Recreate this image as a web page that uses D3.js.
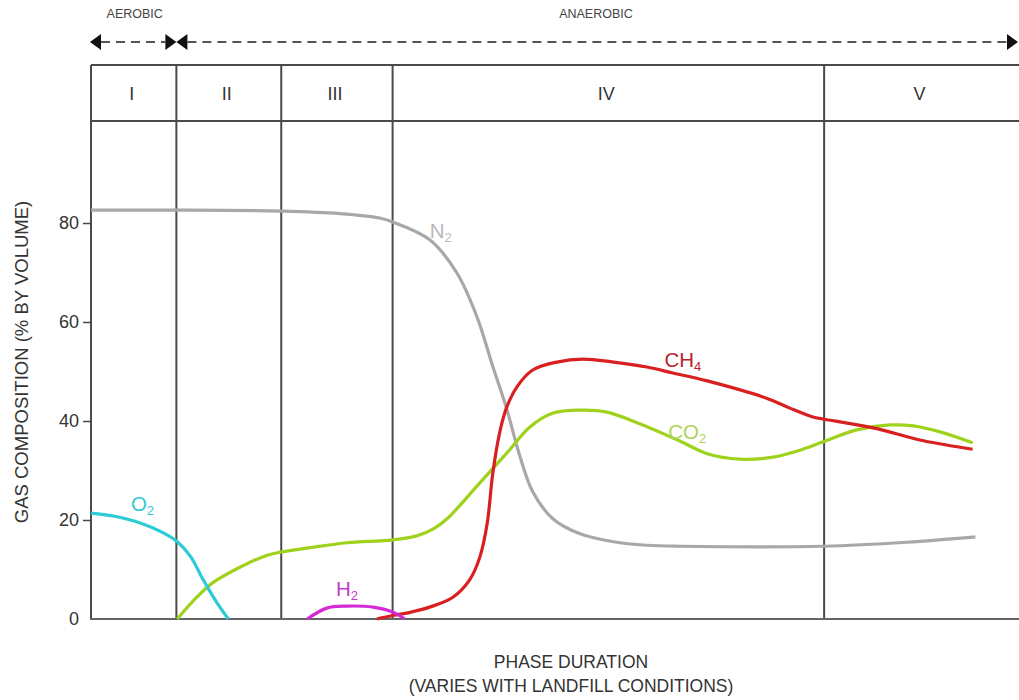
<!DOCTYPE html>
<html>
<head>
<meta charset="utf-8">
<script src="https://cdn.jsdelivr.net/npm/d3@7"></script>
<style>
  body { margin: 0; background: #fff; }
  svg { display: block; font-family: "Liberation Sans", Arial, sans-serif; }
</style>
</head>
<body>
<div id="vis"></div>
<script>
// Landfill gas composition by phase

// Data (x = relative phase duration 0-100, y = % by volume)
const PHASE_LABELS = ["I", "II", "III", "IV", "V"];
const PHASE_EDGES = [0, 9.2, 20.5, 32.5, 79, 100];
const Y_TICKS = [0, 20, 40, 60, 80];

const N2_X = [0, 9.2, 20.5, 26.8, 31.1, 32.5, 36.5, 39.4, 41.6, 43.3, 44.8, 46.2, 47.6, 49.8, 52.7, 56.3, 59.9, 63.5, 78.9, 87.9, 95.3];
const N2_Y = [82.6, 82.6, 82.4, 81.9, 81.0, 80.2, 76.6, 70.0, 61.0, 51.0, 42.4, 33.0, 25.7, 20.2, 17.2, 15.6, 14.9, 14.7, 14.7, 15.5, 16.6];

const CH4_X = [30.8, 32.5, 34.5, 36.5, 39.0, 40.8, 41.9, 42.7, 43.3, 44.1, 44.8, 45.9, 47.6, 50.2, 53.0, 56.3, 59.9, 62.7, 66.4, 72.8, 75.3, 77.8, 78.9, 84.3, 89.7, 95.0];
const CH4_Y = [0, 0.7, 1.4, 2.4, 4.4, 7.9, 12.5, 19.4, 29.5, 38.2, 42.8, 46.9, 50.3, 51.9, 52.5, 51.9, 50.9, 49.7, 48.1, 44.6, 42.6, 40.8, 40.4, 38.6, 36.0, 34.3];

const CO2_X = [9.3, 11.4, 13.1, 16.1, 19.0, 20.4, 23.9, 27.6, 32.5, 35.1, 36.9, 38.4, 41.9, 44.8, 47.3, 49.8, 52.7, 55.6, 59.2, 63.5, 66.4, 69.9, 73.5, 76.4, 78.9, 82.5, 86.1, 88.6, 91.5, 95.0];
const CO2_Y = [0, 4.4, 7.3, 10.5, 12.9, 13.5, 14.5, 15.4, 16.0, 16.8, 18.2, 20.3, 27.5, 33.5, 38.8, 41.6, 42.2, 41.8, 39.4, 35.9, 33.4, 32.3, 32.7, 34.1, 35.8, 38.2, 39.2, 39.0, 37.8, 35.6];

const O2_X = [0, 2.4, 5.3, 7.8, 9.3, 10.7, 12.1, 13.6, 14.8];
const O2_Y = [21.4, 20.8, 19.4, 17.4, 15.6, 12.7, 7.9, 3.2, 0];

const H2_X = [23.3, 25.4, 27.6, 30.4, 32.5, 33.8];
const H2_Y = [0, 2.2, 2.6, 2.4, 1.4, 0];

// Layout
const FRAME_WIDTH = 1019;
const FRAME_HEIGHT = 700;
const BOX_TOP = 65;
const HEADER_BOTTOM = 121;
const ARROW_Y = 42;

const xSCALE = d3.scaleLinear().domain([0, 100]).range([91, 1019]);
const ySCALE = d3.scaleLinear().domain([0, 80]).range([619, 223]);

const svg = d3.select("#vis").append("svg")
    .attr("width", FRAME_WIDTH)
    .attr("height", FRAME_HEIGHT);

// Phase box (header row + dividers)
const LINE_COLOR = "#4a4a4a";
svg.append("line")
    .attr("x1", xSCALE(0)).attr("x2", xSCALE(100))
    .attr("y1", BOX_TOP).attr("y2", BOX_TOP)
    .attr("stroke", LINE_COLOR).attr("stroke-width", 2);
svg.append("line")
    .attr("x1", xSCALE(0)).attr("x2", xSCALE(100))
    .attr("y1", HEADER_BOTTOM).attr("y2", HEADER_BOTTOM)
    .attr("stroke", LINE_COLOR).attr("stroke-width", 2);

svg.selectAll(".divider")
    .data(PHASE_EDGES.slice(0, 5))
    .enter()
    .append("line")
    .attr("class", "divider")
    .attr("x1", (d) => xSCALE(d)).attr("x2", (d) => xSCALE(d))
    .attr("y1", BOX_TOP).attr("y2", ySCALE(0))
    .attr("stroke", LINE_COLOR).attr("stroke-width", 2);

svg.selectAll(".phase-label")
    .data(PHASE_LABELS)
    .enter()
    .append("text")
    .attr("class", "phase-label")
    .attr("x", (d, i) => xSCALE((PHASE_EDGES[i] + PHASE_EDGES[i + 1]) / 2) - 2)
    .attr("y", 100)
    .attr("text-anchor", "middle")
    .attr("font-size", "18px")
    .attr("fill", "#333")
    .text((d) => d);

// Aerobic / anaerobic arrows
const ARROW_COLOR = "#555";
const tri = (tip, dir) => {
    const base = tip - dir * 11;
    return `M${tip},${ARROW_Y} L${base},${ARROW_Y - 8} L${base},${ARROW_Y + 8} Z`;
};
const xSplit = xSCALE(PHASE_EDGES[1]);
svg.append("line")
    .attr("x1", xSCALE(0) + 10).attr("x2", xSplit - 11)
    .attr("y1", ARROW_Y).attr("y2", ARROW_Y)
    .attr("stroke", ARROW_COLOR).attr("stroke-width", 2)
    .attr("stroke-dasharray", "9,6");
svg.append("line")
    .attr("x1", xSplit + 11).attr("x2", xSCALE(100) - 11)
    .attr("y1", ARROW_Y).attr("y2", ARROW_Y)
    .attr("stroke", ARROW_COLOR).attr("stroke-width", 2)
    .attr("stroke-dasharray", "9,6");
[[xSCALE(0) - 1, -1], [xSplit, 1], [xSplit, -1], [xSCALE(100) - 1, 1]].forEach((a) => {
    svg.append("path").attr("d", tri(a[0], a[1])).attr("fill", "#111");
});

svg.append("text")
    .attr("x", (xSCALE(0) + xSplit) / 2 + 1)
    .attr("y", 18)
    .attr("text-anchor", "middle")
    .attr("font-size", "12.5px")
    .attr("fill", "#444")
    .text("AEROBIC");
svg.append("text")
    .attr("x", 596)
    .attr("y", 18)
    .attr("text-anchor", "middle")
    .attr("font-size", "12.5px")
    .attr("fill", "#444")
    .text("ANAEROBIC");

// Y axis
const yAxis = svg.append("g")
    .attr("transform", "translate(" + xSCALE(0) + ",0)")
    .call(d3.axisLeft(ySCALE).tickValues(Y_TICKS).tickSize(8).tickPadding(4));
yAxis.select(".domain").remove();
yAxis.selectAll(".tick line")
    .attr("stroke", LINE_COLOR).attr("stroke-width", 1.5)
    .filter((d) => d === 0).remove();
yAxis.selectAll("text")
    .attr("font-size", "18px")
    .attr("fill", "#333")
    .attr("font-family", "Liberation Sans, Arial, sans-serif");

// Baseline
svg.append("line")
    .attr("x1", xSCALE(0) - 1).attr("x2", xSCALE(100))
    .attr("y1", ySCALE(0)).attr("y2", ySCALE(0))
    .attr("stroke", "#666").attr("stroke-width", 2);

// Axis titles
svg.append("text")
    .attr("transform", "translate(28," + 362 + ") rotate(-90)")
    .attr("text-anchor", "middle")
    .attr("font-size", "18.5px")
    .attr("fill", "#333")
    .text("GAS COMPOSITION (% BY VOLUME)");
svg.append("text")
    .attr("x", 571).attr("y", 668)
    .attr("text-anchor", "middle")
    .attr("font-size", "17.5px")
    .attr("fill", "#333")
    .text("PHASE DURATION");
svg.append("text")
    .attr("x", 571).attr("y", 692)
    .attr("text-anchor", "middle")
    .attr("font-size", "17.5px")
    .attr("fill", "#333")
    .text("(VARIES WITH LANDFILL CONDITIONS)");

// Gas curves
const line = d3.line()
    .x((d) => xSCALE(d[0]))
    .y((d) => ySCALE(d[1]))
    .curve(d3.curveCatmullRom.alpha(0.5));

const GASES = [
    {xs: N2_X, ys: N2_Y, color: "#a8a8a8", label: "N", sub: "2", lx: 36.5, ly: 77, lc: "#b8b8b8"},
    {xs: CO2_X, ys: CO2_Y, color: "#9fd21c", label: "CO", sub: "2", lx: 62.2, ly: 36.4, lc: "#aed45a"},
    {xs: CH4_X, ys: CH4_Y, color: "#d91f1f", label: "CH", sub: "4", lx: 61.8, ly: 50.9, lc: "#b8222a"},
    {xs: O2_X, ys: O2_Y, color: "#2cccd6", label: "O", sub: "2", lx: 4.3, ly: 21.8, lc: "#35c8d2"},
    {xs: H2_X, ys: H2_Y, color: "#d42ad4", label: "H", sub: "2", lx: 26.4, ly: 4.6, lc: "#c23cc8"}
];

GASES.forEach((g) => {
    svg.append("path")
        .datum(g.xs.map((x, i) => [x, g.ys[i]]))
        .attr("d", line)
        .attr("fill", "none")
        .attr("stroke", g.color)
        .attr("stroke-width", 3.2);

    const t = svg.append("text")
        .attr("x", xSCALE(g.lx))
        .attr("y", ySCALE(g.ly))
        .attr("font-size", "20.5px")
        .attr("fill", g.lc)
        .text(g.label);
    t.append("tspan")
        .attr("dy", 4)
        .attr("font-size", "13px")
        .text(g.sub);
});
</script>
</body>
</html>
